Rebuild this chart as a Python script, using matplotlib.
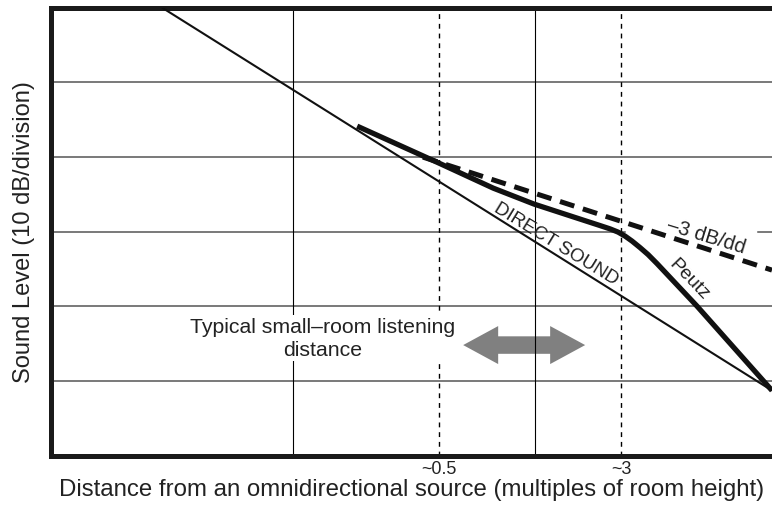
import matplotlib
matplotlib.use("Agg")
import matplotlib.pyplot as plt
from matplotlib.patches import Polygon

plt.rcParams['font.family'] = ['Liberation Sans', 'DejaVu Sans']

# ---- data (x in decades of distance, y in 10 dB divisions) ----
direct_x = [0.46, 2.981]
direct_y = [6.0, 0.87]

peutz_x = [1.267, 1.605, 1.829, 1.998, 2.176, 2.271, 2.312, 2.345, 2.374, 2.403,
           2.436, 2.469, 2.506, 2.671, 2.981]
peutz_y = [4.411, 3.916, 3.581, 3.367, 3.179, 3.079, 3.035, 2.992, 2.938, 2.871,
           2.784, 2.691, 2.570, 2.001, 0.870]

slope3_x = [1.539, 2.981]
slope3_y = [3.996, 2.483]

grid_y = [1, 2, 3, 4, 5]
grid_x_solid = [1, 2]
grid_x_dashed = [1.605, 2.357]
tick_labels = ["~0.5", "~3"]

arrow_left, arrow_right, arrow_y = 1.705, 2.209, 1.479

x_max = 2.981
y_max = 6.0

fig = plt.figure(figsize=(7.72, 5.06), dpi=100)
ax = fig.add_axes([50.5 / 772, 1 - 456.5 / 506, 1 - 50.5 / 772, (456.5 - 8.5) / 506])
ax.set_xlim(0, x_max)
ax.set_ylim(0, y_max)

# grid lines
gap = (2.374, 2.924)
for gy in grid_y:
    if gy == 3:
        ax.plot([0, gap[0]], [gy, gy], color='#555555', lw=1.1, zorder=2)
        ax.plot([gap[1], x_max], [gy, gy], color='#555555', lw=1.1, zorder=2)
    else:
        ax.axhline(gy, color='#555555', lw=1.1, zorder=2)
for gx in grid_x_solid:
    ax.axvline(gx, color='black', lw=0.8, zorder=2)
for gx in grid_x_dashed:
    ax.axvline(gx, color='black', lw=1.0, dashes=(3.5, 3.5), zorder=2)

# curves
ax.plot(direct_x, direct_y, color='#111111', lw=1.5, zorder=4, solid_capstyle='butt')
ax.plot(slope3_x, slope3_y, color='#111111', lw=3.6, dashes=(3.0, 1.8),
        dash_capstyle='butt', zorder=4)
ax.plot(peutz_x, peutz_y, color='#111111', lw=3.8, zorder=5,
        solid_capstyle='butt', solid_joinstyle='round')

# double arrow (gray) as one polygon, behind grid lines
px_per_x = ax.bbox.width / x_max
px_per_y = ax.bbox.height / y_max
hl = 35 / px_per_x      # head length
hw = 19 / px_per_y      # head half-width
sw = 8.75 / px_per_y    # shaft half-width
L, R, y = arrow_left, arrow_right, arrow_y
verts = [(L, y), (L + hl, y + hw), (L + hl, y + sw), (R - hl, y + sw), (R - hl, y + hw),
         (R, y), (R - hl, y - hw), (R - hl, y - sw), (L + hl, y - sw), (L + hl, y - hw)]
ax.add_patch(Polygon(verts, closed=True, facecolor='#808080', edgecolor='none', zorder=1))

# texts
ax.text(2.089, 2.845, "DIRECT SOUND", rotation=-31.5, rotation_mode='anchor',
        ha='center', va='center', fontsize=13.5, color='#222222', zorder=6)
ax.text(2.638, 2.363, "Peutz", rotation=-46, rotation_mode='anchor',
        ha='center', va='center', fontsize=14, color='#222222', zorder=6)
ax.text(2.709, 2.952, "\u20133 dB/dd", rotation=-17, rotation_mode='anchor',
        ha='center', va='center', fontsize=14.5, color='#222222', zorder=6)
ax.text(1.126, 1.573, "Typical small\u2013room listening\ndistance",
        ha='center', va='center', fontsize=15.3, color='#222222', linespacing=1.3,
        bbox=dict(facecolor='white', edgecolor='none', pad=1), zorder=6)

# axes styling
for s in ['left', 'top', 'bottom']:
    ax.spines[s].set_linewidth(3.6)
    ax.spines[s].set_color('#1a1a1a')
ax.spines['right'].set_visible(False)
ax.set_yticks([])
ax.set_xticks(grid_x_dashed)
ax.set_xticklabels(tick_labels, fontsize=13, color='#222222')
ax.tick_params(axis='x', length=0, pad=3)

ax.set_xlabel("Distance from an omnidirectional source (multiples of room height)",
              fontsize=17.3, color='#222222', labelpad=1)
ax.set_ylabel("Sound Level (10 dB/division)", fontsize=17, color='#222222', labelpad=11)

fig.savefig("out.png", dpi=100)
